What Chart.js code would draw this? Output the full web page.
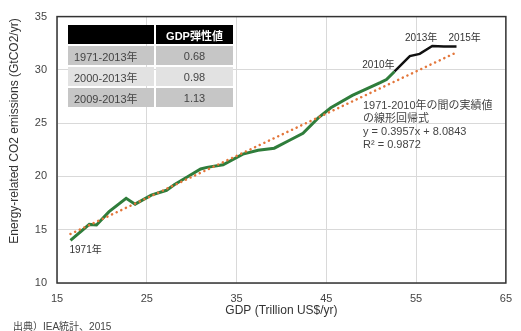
<!DOCTYPE html>
<html>
<head>
<meta charset="utf-8">
<script src="https://cdn.jsdelivr.net/npm/chart.js@4"></script>
<style>
  body { margin: 0; background: #fff; }
  #wrap { position: relative; width: 521px; height: 331px; }
  #elastTable {
    position: absolute; left: 66px; top: 23px;
    border-collapse: separate; border-spacing: 2px;
    font-family: 'Liberation Sans', 'Noto Sans CJK JP', sans-serif; font-size: 11px; color: #444;
  }
  #elastTable td { height: 19px; padding: 0; }
  #elastTable td.c1 { width: 80px; padding-left: 6px; text-align: left; }
  #elastTable td.c2 { width: 77px; text-align: center; }
  #elastTable tr.head td { background: #000; color: #fff; font-weight: bold; }
  #elastTable tr.dark td { background: #c6c6c6; }
  #elastTable tr.light td { background: #e2e2e2; }
</style>
</head>
<body>
<div id="wrap">
  <canvas id="myChart" width="521" height="331"></canvas>
  <table id="elastTable"></table>
</div>
<script>
// green: 1971-2010 actuals, black: 2010-2015
const gdpGreen = [16.5, 18.6, 19.4, 20.8, 22.7, 23.7, 25.5, 27.2, 28.1, 29.5, 31.0, 31.7, 33.5, 35.7, 37.4, 39.2, 40.8, 42.4, 44.1, 45.5, 47.9, 51.0, 51.7, 52.6]
const co2Green = [14.0, 15.5, 15.45, 16.7, 17.95, 17.4, 18.25, 18.7, 19.25, 19.95, 20.7, 20.85, 21.1, 22.1, 22.45, 22.65, 23.35, 24.05, 25.5, 26.45, 27.6, 28.8, 29.1, 29.85]
const gdpBlack = [52.6, 54.3, 55.4, 56.8, 58.1, 59.5]
const co2Black = [29.85, 31.3, 31.5, 32.25, 32.2, 32.2]
const trendGdp = [16.5, 59.4]
const trendCo2 = [14.6, 31.6]

const xTicks = [15, 25, 35, 45, 55, 65]
const yTicks = [10, 15, 20, 25, 30, 35]

const periods = ['1971-2013年', '2000-2013年', '2009-2013年']
const elasticity = ['0.68', '0.98', '1.13']
const regressionText = ['1971-2010年の間の実績値', 'の線形回帰式', 'y = 0.3957x + 8.0843', 'R² = 0.9872']

const FONT = "'Liberation Sans', 'Noto Sans CJK JP', sans-serif"

// table of elasticities
let tbl = document.getElementById('elastTable')
let html = '<tr class="head"><td class="c1"></td><td class="c2">GDP弾性値</td></tr>'
periods.forEach((p, i) => {
    html += `<tr class="${i == 1 ? 'light' : 'dark'}"><td class="c1">${p}</td><td class="c2">${elasticity[i]}</td></tr>`
})
tbl.innerHTML = html

const toPoints = (xs, ys) => xs.map((x, i) => ({x: x, y: ys[i]}))

// frame + text annotations
const annotations = {
    id: 'annotations',
    afterDatasetsDraw(chart) {
        const {ctx, chartArea, scales} = chart
        const px = v => scales.x.getPixelForValue(v)
        const py = v => scales.y.getPixelForValue(v)
        ctx.save()
        ctx.strokeStyle = '#333'
        ctx.lineWidth = 1.5
        ctx.strokeRect(chartArea.left, chartArea.top, chartArea.right - chartArea.left, chartArea.bottom - chartArea.top)

        ctx.fillStyle = '#333'
        ctx.textBaseline = 'middle'
        ctx.font = '10px ' + FONT
        ctx.textAlign = 'left'
        ctx.fillText('1971年', px(gdpGreen[0]) - 1, py(co2Green[0]) + 10)
        ctx.textAlign = 'right'
        ctx.fillText('2010年', px(gdpBlack[0]), py(co2Black[0]) - 6)
        ctx.fillText('2013年', px(gdpBlack[3]) + 5, py(co2Black[3]) - 8)
        ctx.textAlign = 'left'
        ctx.fillText('2015年', px(gdpBlack[5]) - 8, py(co2Black[5]) - 8)

        ctx.font = '11px ' + FONT
        ctx.fillStyle = '#444'
        const lineY = [106, 119, 132, 145]
        regressionText.forEach((t, i) => ctx.fillText(t, 363, lineY[i]))

        ctx.font = '10px ' + FONT
        ctx.fillText('出典）IEA統計、2015', 13, 327)

        // y axis title, drawn a bit above the plot centre like the original
        ctx.save()
        ctx.translate(15, 131)
        ctx.rotate(-Math.PI / 2)
        ctx.textAlign = 'center'
        ctx.fillStyle = '#333'
        ctx.font = '12px ' + FONT
        ctx.fillText('Energy-related CO2 emissions (GtCO2/yr)', 0, 0)
        ctx.restore()
        ctx.restore()
    }
}

const ctx = document.getElementById('myChart').getContext('2d')
const myChart = new Chart(ctx, {
    type: 'scatter',
    data: {
        datasets: [{
            label: 'trend',
            data: toPoints(trendGdp, trendCo2),
            showLine: true,
            borderColor: '#e3763a',
            borderWidth: 2.5,
            borderDash: [0.1, 5],
            borderCapStyle: 'round',
            pointRadius: 0,
            order: 0
        }, {
            label: '1971-2010',
            data: toPoints(gdpGreen, co2Green),
            showLine: true,
            borderColor: '#2f7d3b',
            borderWidth: 3,
            pointRadius: 0,
            order: 2
        }, {
            label: '2010-2015',
            data: toPoints(gdpBlack, co2Black),
            showLine: true,
            borderColor: '#111',
            borderWidth: 2.5,
            pointRadius: 0,
            order: 1
        }]
    },
    options: {
        responsive: false,
        animation: false,
        devicePixelRatio: 1,
        layout: { padding: { top: 13, right: 8, left: 0, bottom: 0 } },
        plugins: {
            legend: { display: false },
            tooltip: { enabled: false }
        },
        scales: {
            x: {
                type: 'linear',
                min: 15,
                max: 65,
                afterBuildTicks: s => { s.ticks = xTicks.map(v => ({value: v})) },
                afterFit: s => { s.height = 48 },
                grid: { color: '#d9d9d9', lineWidth: 1, drawTicks: false },
                border: { display: false },
                ticks: { color: '#444', font: { size: 11, family: FONT }, padding: 9, maxRotation: 0 },
                title: {
                    display: true,
                    text: 'GDP (Trillion US$/yr)',
                    color: '#333',
                    font: { size: 12, family: FONT },
                    padding: { top: 0, bottom: 13 }
                }
            },
            y: {
                min: 10,
                max: 35,
                afterBuildTicks: s => { s.ticks = yTicks.map(v => ({value: v})) },
                afterFit: s => { s.width = 57 },
                grid: { color: '#d9d9d9', lineWidth: 1, drawTicks: false },
                border: { display: false },
                ticks: { color: '#444', font: { size: 11, family: FONT }, padding: 10 }
            }
        }
    },
    plugins: [annotations]
})
</script>
</body>
</html>
